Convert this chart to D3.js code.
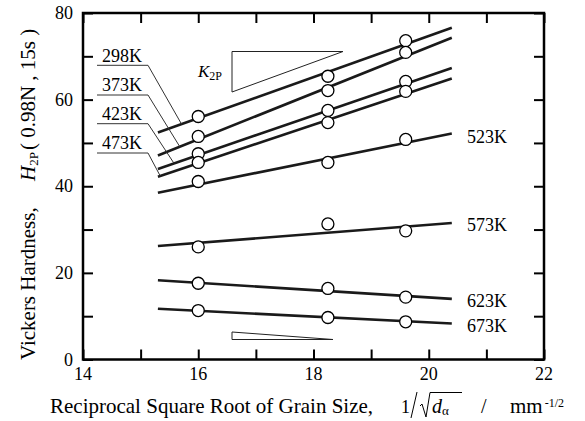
<!DOCTYPE html>
<html>
<head>
<meta charset="utf-8">
<script src="https://cdn.jsdelivr.net/npm/d3@7"></script>
<style>
  body { margin: 0; background: #fff; }
  svg { display: block; }
  text { font-family: "Liberation Serif", "Times New Roman", serif; fill: #000; }
</style>
</head>
<body>
<div id="chart"></div>
<script>
// temperatures (one line each)
const temps = ["298K", "373K", "423K", "473K", "523K", "573K", "623K", "673K"];
// measured grain sizes, 1/sqrt(d)
const grainX = [16.0, 18.25, 19.6];
// hardness H2P at each grain size
const hardness = [
  [56.1, 65.4, 73.6],
  [51.5, 62.1, 70.9],
  [47.5, 57.5, 64.2],
  [45.5, 54.7, 61.9],
  [41.1, 45.5, 50.8],
  [26.0, 31.3, 29.7],
  [17.6, 16.4, 14.4],
  [11.3, 9.7, 8.7]
];
// fitted Hall-Petch lines, value at both ends of fitRange
const fitRange = [15.3, 20.4];
const fitStart = [52.4, 47.1, 44.0, 42.2, 38.5, 26.2, 18.3, 11.7];
const fitEnd = [76.6, 74.3, 67.3, 64.9, 52.2, 31.5, 14.0, 8.3];
const xTicks = [14, 16, 18, 20, 22];
const yTicks = [0, 20, 40, 60, 80];

const width = 585, height = 421;
const svg = d3.select("#chart").append("svg")
  .attr("width", width).attr("height", height);

const x = d3.scaleLinear().domain([14, 22]).range([83, 544]);
const y = d3.scaleLinear().domain([0, 80]).range([359.5, 13]);

function fitAt(i, xv) {
  const t = (xv - fitRange[0]) / (fitRange[1] - fitRange[0]);
  return fitStart[i] + t * (fitEnd[i] - fitStart[i]);
}

// axes with inward ticks on all four sides
const tickLen = 10;
svg.append("g").attr("transform", "translate(0," + y(0) + ")")
  .call(d3.axisBottom(x).tickValues(d3.range(14, 23, 1)).tickSizeInner(-tickLen).tickSizeOuter(0).tickFormat(""));
svg.append("g").attr("transform", "translate(0," + y(80) + ")")
  .call(d3.axisTop(x).tickValues(d3.range(14, 23, 1)).tickSizeInner(-tickLen).tickSizeOuter(0).tickFormat(""));
svg.append("g").attr("transform", "translate(" + x(14) + ",0)")
  .call(d3.axisLeft(y).tickValues(d3.range(0, 81, 10)).tickSizeInner(-tickLen).tickSizeOuter(0).tickFormat(""));
svg.append("g").attr("transform", "translate(" + x(22) + ",0)")
  .call(d3.axisRight(y).tickValues(d3.range(0, 81, 10)).tickSizeInner(-tickLen).tickSizeOuter(0).tickFormat(""));
svg.selectAll(".domain").remove();
svg.selectAll(".tick line").attr("stroke", "#000").attr("stroke-width", 2);

svg.append("rect")
  .attr("x", x(14)).attr("y", y(80))
  .attr("width", x(22) - x(14)).attr("height", y(0) - y(80))
  .attr("fill", "none").attr("stroke", "#000").attr("stroke-width", 2.5);

// tick labels
svg.selectAll(".xlab").data(xTicks).enter().append("text")
  .attr("x", d => x(d)).attr("y", 380)
  .attr("text-anchor", "middle").attr("font-size", 18)
  .text(d => d);
svg.selectAll(".ylab").data(yTicks).enter().append("text")
  .attr("x", 73).attr("y", d => y(d) + 6)
  .attr("text-anchor", "end").attr("font-size", 18)
  .text(d => d);

// slope triangles
const tri = svg.append("g").attr("fill", "none").attr("stroke", "#222").attr("stroke-width", 1);
tri.append("path").attr("d", "M232,51.5 L343,51.5 L232,92 Z");
tri.append("path").attr("d", "M232,332 L232,339.5 L333,339.5 Z");
const kt = svg.append("text").attr("x", 198).attr("y", 77).attr("font-size", 17);
kt.append("tspan").attr("font-style", "italic").text("K");
kt.append("tspan").attr("font-size", 12).attr("dy", 3).text("2P");

// fitted lines
svg.selectAll(".fit").data(temps).enter().append("line")
  .attr("x1", x(fitRange[0])).attr("y1", (d, i) => y(fitStart[i]))
  .attr("x2", x(fitRange[1])).attr("y2", (d, i) => y(fitEnd[i]))
  .attr("stroke", "#1a1a1a").attr("stroke-width", 2.6);

// measured points
hardness.forEach(function (row) {
  svg.selectAll(null).data(row).enter().append("circle")
    .attr("cx", (d, j) => x(grainX[j])).attr("cy", d => y(d))
    .attr("r", 6).attr("fill", "#fff").attr("stroke", "#000").attr("stroke-width", 1.3);
});

// left labels with leaders
const leftLab = [
  {i: 0, ty: 61.5, hy: 65.3, xv: 15.71},
  {i: 1, ty: 91, hy: 95, xv: 15.68},
  {i: 2, ty: 120, hy: 123.7, xv: 15.58},
  {i: 3, ty: 149, hy: 153, xv: 15.34}
];
leftLab.forEach(function (l) {
  svg.append("text").attr("x", 102).attr("y", l.ty).attr("font-size", 18).text(temps[l.i]);
  svg.append("path")
    .attr("d", "M97," + l.hy + " L148," + l.hy + " L" + x(l.xv) + "," + y(fitAt(l.i, l.xv)))
    .attr("fill", "none").attr("stroke", "#333").attr("stroke-width", 1);
});

// right labels
const rightLab = [{i: 4, ty: 142.5}, {i: 5, ty: 231}, {i: 6, ty: 307}, {i: 7, ty: 332}];
rightLab.forEach(function (l) {
  svg.append("text").attr("x", 467).attr("y", l.ty).attr("font-size", 18).text(temps[l.i]);
});

// x axis title
svg.append("text").attr("x", 50).attr("y", 413).attr("font-size", 21)
  .text("Reciprocal Square Root of Grain Size,");
svg.append("text").attr("x", 401).attr("y", 413).attr("font-size", 18).text("1");
svg.append("path").attr("d", "M417,392 L411,418").attr("stroke", "#000").attr("stroke-width", 1).attr("fill", "none");
svg.append("path").attr("d", "M420,406 L422,404 L426,417 L430,392.5 L462,392.5")
  .attr("stroke", "#000").attr("stroke-width", 1).attr("fill", "none");
const dt = svg.append("text").attr("x", 432).attr("y", 413).attr("font-size", 20);
dt.append("tspan").attr("font-style", "italic").text("d");
dt.append("tspan").attr("font-size", 13).attr("dy", 2).text("α");
svg.append("text").attr("x", 481).attr("y", 413).attr("font-size", 20).text("/");
const mm = svg.append("text").attr("x", 510).attr("y", 413).attr("font-size", 21);
mm.append("tspan").text("mm");
mm.append("tspan").attr("font-size", 12).attr("dx", 2).attr("dy", -6).text("-1/2");

// y axis title (rotated)
const yt = svg.append("g").attr("transform", "translate(35,0) rotate(-90)");
yt.append("text").attr("x", -360).attr("y", 0).attr("font-size", 21).text("Vickers Hardness,");
const ht = yt.append("text").attr("x", -181).attr("y", 0).attr("font-size", 21);
ht.append("tspan").attr("font-style", "italic").text("H");
ht.append("tspan").attr("font-size", 13).attr("dy", 3).text("2P");
ht.append("tspan").attr("dy", -3).attr("dx", 2).text("( 0.98N , 15s )");
</script>
</body>
</html>
